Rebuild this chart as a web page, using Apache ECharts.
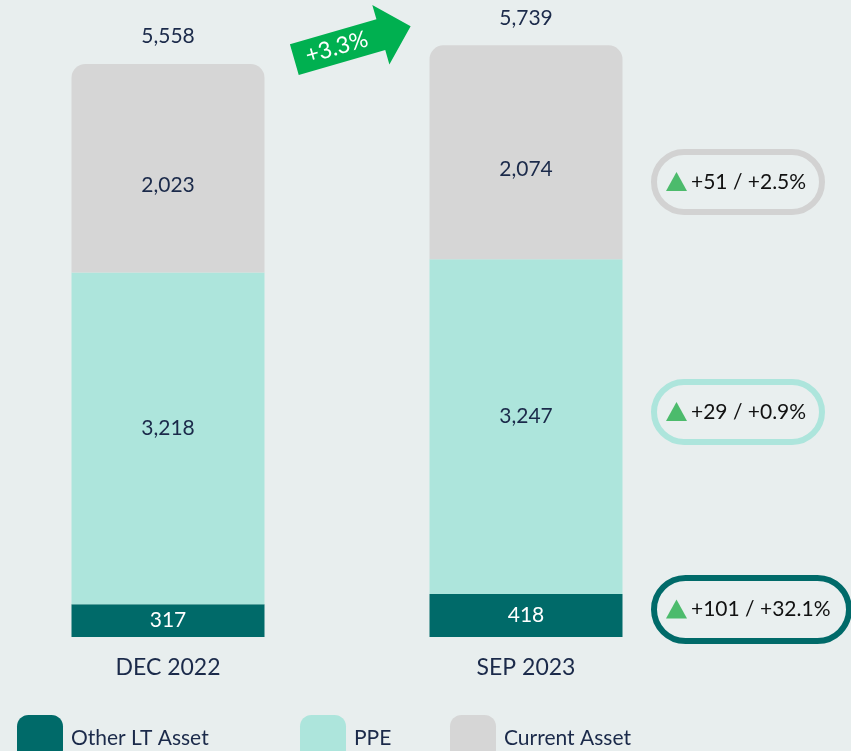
<!DOCTYPE html>
<html>
<head>
<meta charset="utf-8">
<script src="https://cdn.jsdelivr.net/npm/echarts@6/dist/echarts.min.js"></script>
<style>
  html, body { margin: 0; padding: 0; background: #e8eeee; }
  #chart { width: 851px; height: 751px; }
</style>
</head>
<body>
<div id="chart"></div>
<script>
// data
var periods = ["DEC 2022", "SEP 2023"];
var otherLT = [317, 418];
var ppe = [3218, 3247];
var current = [2023, 2074];
var growthLabel = "+3.3%";
// change labels as printed on the slide (current, PPE, other LT)
var changeLabels = ["+51 / +2.5%", "+29 / +0.9%", "+101 / +32.1%"];

var totals = periods.map(function (p, i) { return otherLT[i] + ppe[i] + current[i]; });

function fmt(v) { return v.toLocaleString("en-US"); }

var navy = "#1b2a4a";
var font = "Lato";
var chart = echarts.init(document.getElementById("chart"));

// pill annotation on the right side
function pill(x, y, w, h, stroke, text) {
  return {
    type: "group", left: x, top: y,
    children: [
      { type: "rect", shape: { x: 0, y: 0, width: w, height: h, r: h / 2 },
        style: { fill: "#e9efef", stroke: stroke, lineWidth: 6 } },
      { type: "polygon", shape: { points: [[12, h / 2 + 9], [33, h / 2 + 9], [22.5, h / 2 - 10]] },
        style: { fill: "#4cbb6c" } },
      { type: "text", x: 37, y: h / 2, style: { text: text, fill: "#111", font: "21px " + font, verticalAlign: "middle" } }
    ]
  };
}

var segLabel = { show: true, position: "inside", color: navy, fontSize: 21, fontFamily: font,
  formatter: function (p) { return fmt(p.value); } };

var option = {
  backgroundColor: "#e8eeee",
  animation: false,
  // categories sit on the grid edges (boundaryGap false), bars centred there
  grid: { left: 168, right: 325, top: 18.4, bottom: 114 },
  xAxis: {
    type: "category",
    data: periods,
    boundaryGap: false,
    axisLine: { show: false },
    axisTick: { show: false },
    axisLabel: { color: navy, fontSize: 23, fontFamily: font, margin: 19 }
  },
  yAxis: { type: "value", min: 0, max: 6000, show: false },
  legend: [
    { data: ["Other LT Asset"], left: 12, top: 710 },
    { data: ["PPE"], left: 295, top: 710 },
    { data: ["Current Asset"], left: 445, top: 710 }
  ].map(function (l) {
    return Object.assign(l, {
      icon: "roundRect", itemWidth: 46, itemHeight: 46, itemGap: 13,
      textStyle: { color: navy, fontSize: 21, fontFamily: font, padding: [0, 0, 6, 3] }
    });
  }),
  series: [
    {
      name: "Other LT Asset", type: "bar", stack: "a", barWidth: 193, clip: false,
      data: otherLT, itemStyle: { color: "#006a69" },
      label: Object.assign({}, segLabel, { color: "#fff" })
    },
    {
      name: "PPE", type: "bar", stack: "a", barWidth: 193, clip: false,
      data: ppe, itemStyle: { color: "#ade5dc" },
      label: Object.assign({}, segLabel, { offset: [0, -10] })
    },
    {
      name: "Current Asset", type: "bar", stack: "a", barWidth: 193, clip: false,
      data: current, itemStyle: { color: "#d6d6d6", borderRadius: [14, 14, 0, 0] },
      label: Object.assign({}, segLabel, { offset: [0, 17] })
    },
    {
      name: "Total", type: "bar", stack: "a", barWidth: 193, clip: false,
      data: [0, 0], itemStyle: { color: "transparent" },
      label: { show: true, position: "top", distance: 17, color: navy, fontSize: 21, fontFamily: font,
        formatter: function (p) { return fmt(totals[p.dataIndex]); } }
    }
  ],
  graphic: [
    {
      type: "group", x: 352, y: 43, rotation: 16 * Math.PI / 180,
      children: [
        { type: "polygon", shape: { points: [[-60, -16], [30, -16], [30, -31], [61, 0], [30, 31], [30, 16], [-60, 16]] },
          style: { fill: "#00b050" } },
        { type: "text", x: -16, y: 0, style: { text: growthLabel, fill: "#fff", font: "23px " + font, align: "center", verticalAlign: "middle" } }
      ]
    },
    pill(651, 149, 168, 60, "#d2d2d2", changeLabels[0]),
    pill(651, 379, 168, 60, "#ade5dc", changeLabels[1]),
    pill(651, 575, 195, 63, "#006a69", changeLabels[2])
  ]
};
chart.setOption(option);
</script>
</body>
</html>
